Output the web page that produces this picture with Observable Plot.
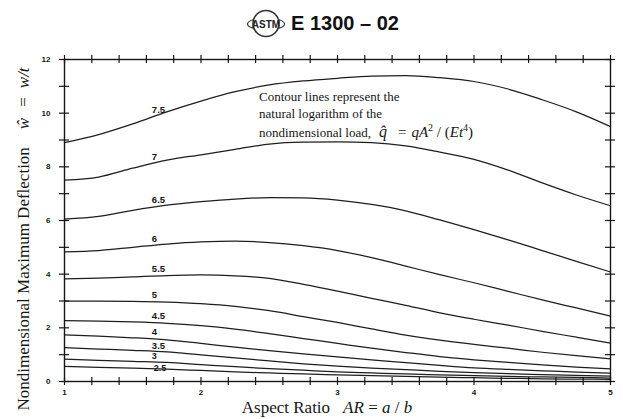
<!DOCTYPE html>
<html>
<head>
<meta charset="utf-8">
<script src="https://cdn.jsdelivr.net/npm/d3@7"></script>
<script src="https://cdn.jsdelivr.net/npm/@observablehq/plot@0.6"></script>
<style>
  html, body { margin: 0; padding: 0; background: #fff; }
  #wrap { position: relative; width: 623px; height: 419px; overflow: hidden; }
  #header { position: absolute; left: 0; top: 0; width: 623px; height: 45px; }
  #logo { position: absolute; left: 246px; top: 8px; overflow: visible; }
  #code { position: absolute; left: 291px; top: 12px; font: bold 20px "Liberation Sans", Arial, sans-serif; color: #111; line-height: 22px; white-space: nowrap; }
  #chart { position: absolute; left: 0; top: 45px; }
</style>
</head>
<body>
<div id="wrap">
  <div id="header">
    <svg id="logo" width="40" height="31" viewBox="0 0 40 31">
      <ellipse cx="20" cy="16" rx="18.5" ry="6" fill="none" stroke="#444" stroke-width="1.2"/>
      <circle cx="20" cy="15.5" r="13" fill="#fff" stroke="#333" stroke-width="1.6"/>
      <text x="20" y="19.5" text-anchor="middle" font-family="Liberation Sans, sans-serif" font-weight="bold" font-size="10" fill="#222">ASTM</text>
    </svg>
    <div id="code">E 1300 – 02</div>
  </div>
  <div id="chart"></div>
</div>
<script>
// Aspect ratio sample positions
const aspectRatio = [1, 1.25, 1.5, 1.75, 2, 2.25, 2.5, 2.75, 3, 3.25, 3.5, 3.75, 4, 4.25, 4.5, 4.75, 5];

// Contour levels (ln of nondimensional load) and their printed labels
const levels = [7.5, 7, 6.5, 6, 5.5, 5, 4.5, 4, 3.5, 3, 2.5];
const levelLabels = ["7.5", "7", "6.5", "6", "5.5", "5", "4.5", "4", "3.5", "3", "2.5"];

// Nondimensional maximum deflection for each contour
const w75 = [8.9, 9.2, 9.6, 10.05, 10.45, 10.8, 11.05, 11.2, 11.3, 11.38, 11.4, 11.32, 11.18, 10.9, 10.5, 10.05, 9.5];
const w70 = [7.5, 7.62, 7.95, 8.25, 8.45, 8.65, 8.85, 8.92, 8.93, 8.9, 8.78, 8.55, 8.28, 7.88, 7.4, 6.95, 6.55];
const w65 = [6.05, 6.15, 6.38, 6.57, 6.7, 6.8, 6.85, 6.84, 6.76, 6.6, 6.36, 6.02, 5.66, 5.28, 4.88, 4.48, 4.08];
const w60 = [4.83, 4.88, 5.0, 5.12, 5.2, 5.23, 5.18, 5.06, 4.88, 4.62, 4.3, 3.98, 3.68, 3.36, 3.04, 2.74, 2.44];
const w55 = [3.82, 3.85, 3.9, 3.95, 3.97, 3.94, 3.84, 3.62, 3.37, 3.1, 2.84, 2.56, 2.32, 2.1, 1.87, 1.65, 1.43];
const w50 = [3.0, 3.0, 2.99, 2.96, 2.9, 2.8, 2.64, 2.42, 2.2, 1.96, 1.73, 1.54, 1.38, 1.24, 1.09, 0.96, 0.84];
const w45 = [2.27, 2.25, 2.22, 2.17, 2.08, 1.95, 1.78, 1.6, 1.42, 1.24, 1.08, 0.93, 0.81, 0.71, 0.62, 0.54, 0.47];
const w40 = [1.74, 1.69, 1.63, 1.55, 1.42, 1.28, 1.15, 1.03, 0.92, 0.81, 0.7, 0.6, 0.51, 0.45, 0.4, 0.35, 0.31];
const w35 = [1.26, 1.21, 1.16, 1.1, 0.99, 0.88, 0.77, 0.66, 0.57, 0.5, 0.44, 0.38, 0.33, 0.29, 0.26, 0.23, 0.2];
const w30 = [0.83, 0.79, 0.75, 0.71, 0.63, 0.55, 0.48, 0.42, 0.36, 0.32, 0.28, 0.25, 0.22, 0.19, 0.17, 0.15, 0.13];
const w25 = [0.56, 0.53, 0.5, 0.46, 0.41, 0.36, 0.32, 0.28, 0.25, 0.22, 0.19, 0.16, 0.14, 0.12, 0.1, 0.09, 0.08];

// Axis tick values and labels
const xTickValues = [1, 2, 3, 4, 5];
const xTickLabels = ["1", "2", "3", "4", "5"];
const yTickValues = [0, 2, 4, 6, 8, 10, 12];
const yTickLabels = ["0", "2", "4", "6", "8", "10", "12"];

const series = [w75, w70, w65, w60, w55, w50, w45, w40, w35, w30, w25];

const rows = levels.flatMap((lv, k) =>
  aspectRatio.map((ar, i) => ({level: lv, ar, w: series[k][i]})));

// label placement along each curve
const labelAR = 1.64;
function interp(ys, x) {
  for (let i = 0; i < aspectRatio.length - 1; i++) {
    const a = aspectRatio[i], b = aspectRatio[i + 1];
    if (x >= a && x <= b) return ys[i] + (ys[i + 1] - ys[i]) * (x - a) / (b - a);
  }
  return ys[ys.length - 1];
}
const labelRows = levels.map((lv, k) => ({level: lv, text: levelLabels[k], ar: labelAR, w: interp(series[k], labelAR)}));

const xDomain = [xTickValues[0], xTickValues[xTickValues.length - 1]];
const yDomain = [yTickValues[0], yTickValues[yTickValues.length - 1]];
const xMinor = d3.range(0, 21).map(i => xDomain[0] + i * (xDomain[1] - xDomain[0]) / 20);
const yMinor = d3.range(yDomain[0], yDomain[1] + 1, 1);

const ink = "#161616";
const W = 623, H = 374;
const labelStyle = {x: "ar", y: "w", text: "text", textAnchor: "start", fontSize: 9.5, fontWeight: "bold", fill: ink};

const chart = Plot.plot({
  width: W, height: H,
  marginTop: 14, marginLeft: 64, marginRight: 13, marginBottom: 38,
  x: {domain: xDomain, ticks: xTickValues, tickSize: 0, tickPadding: 8,
      tickFormat: d => xTickLabels[xTickValues.indexOf(d)], label: null},
  y: {domain: yDomain, ticks: yTickValues, tickSize: 0, tickPadding: 14,
      tickFormat: d => yTickLabels[yTickValues.indexOf(d)], label: null},
  style: {fontFamily: "'Liberation Sans', Arial, sans-serif", fontSize: "8px", fontWeight: "bold", color: ink, background: "#fff", overflow: "visible"},
  marks: [
    Plot.line(rows, {x: "ar", y: "w", z: "level", stroke: "#1e1e1e", strokeWidth: 1.25, curve: "monotone-x"}),
    Plot.text(labelRows.filter(d => d.level >= 4), {...labelStyle, dy: -7}),
    Plot.text(labelRows.filter(d => d.level < 4 && d.level > 3), {...labelStyle, dy: -5}),
    Plot.text(labelRows.filter(d => d.level === 3), {...labelStyle, dy: -6, fontSize: 9}),
    Plot.text(labelRows.filter(d => d.level <= 2.5), {...labelStyle, dy: -0.5, dx: 2, fontSize: 9}),
    Plot.frame({stroke: ink, strokeWidth: 1.4}),
    Plot.ruleX(xMinor, {x: d => d, y1: yDomain[0], y2: yDomain[0], insetTop: -4, insetBottom: -4, stroke: ink, strokeWidth: 1.2}),
    Plot.ruleX(xMinor, {x: d => d, y1: yDomain[1], y2: yDomain[1], insetTop: -4, insetBottom: -4, stroke: ink, strokeWidth: 1.2}),
    Plot.ruleY(yMinor, {y: d => d, x1: xDomain[0], x2: xDomain[0], insetLeft: -5, insetRight: -5, stroke: ink, strokeWidth: 1.2}),
    Plot.ruleY(yMinor, {y: d => d, x1: xDomain[1], x2: xDomain[1], insetLeft: -5, insetRight: -5, stroke: ink, strokeWidth: 1.2})
  ]
});

document.getElementById("chart").appendChild(chart);

// Titles and annotation (serif, like the original)
const svg = d3.select(chart);
const serif = "'Liberation Serif', 'Times New Roman', serif";

// y-axis title
const yt = svg.append("text")
  .attr("transform", "translate(29,194) rotate(-90)")
  .attr("text-anchor", "middle")
  .attr("font-family", serif).attr("font-size", 17).attr("font-weight", "normal").attr("fill", ink);
yt.append("tspan").text("Nondimensional Maximum Deflection");
yt.append("tspan").attr("dx", 18).attr("font-style", "italic").text("ŵ");
yt.append("tspan").attr("dx", 11).text("=");
yt.append("tspan").attr("dx", 9).attr("font-style", "italic").text("w/t");

// x-axis title
const xt = svg.append("text")
  .attr("x", 327).attr("y", 368)
  .attr("text-anchor", "middle")
  .attr("font-family", serif).attr("font-size", 17).attr("font-weight", "normal").attr("fill", ink);
xt.append("tspan").text("Aspect Ratio");
xt.append("tspan").attr("dx", 13).attr("font-style", "italic").text("AR");
xt.append("tspan").text(" = ");
xt.append("tspan").attr("font-style", "italic").text("a");
xt.append("tspan").text(" / ");
xt.append("tspan").attr("font-style", "italic").text("b");

// annotation
const note = svg.append("g")
  .attr("text-anchor", "start")
  .attr("font-family", serif).attr("font-size", 13).attr("font-weight", "normal").attr("fill", ink);
note.append("text").attr("x", 259).attr("y", 56).text("Contour lines represent the");
note.append("text").attr("x", 259).attr("y", 73).text("natural logarithm of the");
const l3 = note.append("text").attr("x", 259).attr("y", 92);
l3.append("tspan").text("nondimensional load,");
l3.append("tspan").attr("dx", 8).attr("font-style", "italic").attr("font-size", 16).text("q̂");
l3.append("tspan").attr("dx", 11).attr("font-size", 15).text("=");
l3.append("tspan").attr("dx", 5).attr("font-style", "italic").attr("font-size", 15).text("qA");
l3.append("tspan").attr("dy", -6).attr("font-size", 10).text("2");
l3.append("tspan").attr("dy", 6).attr("font-size", 15).text(" / (");
l3.append("tspan").attr("font-style", "italic").attr("font-size", 15).text("Et");
l3.append("tspan").attr("dy", -6).attr("font-size", 10).text("4");
l3.append("tspan").attr("dy", 6).attr("font-size", 15).text(")");
</script>
</body>
</html>
